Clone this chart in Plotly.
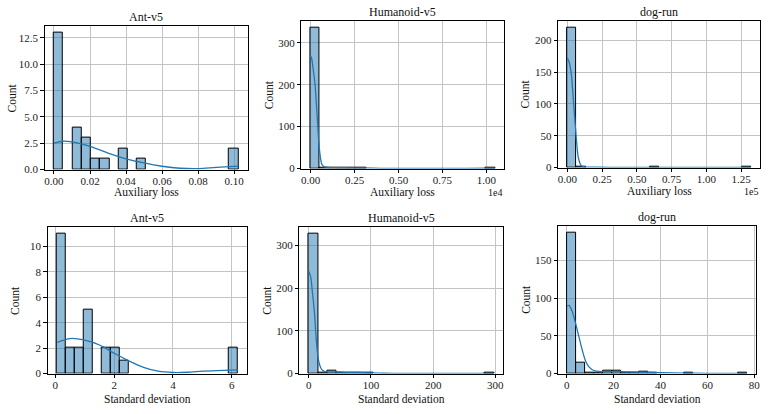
import numpy as np
import plotly.graph_objects as go

W, H = 772, 414

# ---------------- data ----------------
titles = ["Ant-v5", "Humanoid-v5", "dog-run", "Ant-v5", "Humanoid-v5", "dog-run"]
xlabels = ["Auxiliary loss"] * 3 + ["Standard deviation"] * 3

# Auxiliary loss
ant_aux_range = (0.0, 0.1024)
ant_aux_counts = [13, 0, 4, 3, 1, 1, 0, 2, 0, 1, 0, 0, 0, 0, 0, 0, 0, 0, 0, 2]
ant_aux_kde_x = [0, 0.005, 0.01, 0.02, 0.03, 0.04, 0.05, 0.06, 0.07, 0.08, 0.09, 0.1024]
ant_aux_kde_y = [2.5, 2.68, 2.62, 2.2, 1.56, 1.02, 0.62, 0.31, 0.12, 0.08, 0.2, 0.33]

hum_aux_range = (0.0, 10500.0)
hum_aux_counts = [336, 3, 2, 1, 1, 1, 0, 0, 0, 0, 0, 0, 0, 0, 0, 0, 0, 0, 0, 1]
hum_aux_kde_x = [0, 60, 150, 250, 400, 500, 620, 700, 800, 1000, 1500, 2000, 3000, 4000, 6000, 8000, 10000, 10500]
hum_aux_kde_y = [269, 262, 235, 200, 106, 45, 12, 7, 4, 2.5, 2, 1.8, 1.2, 0.5, 0.2, 0.3, 0.6, 0.6]

dog_aux_range = (0.0, 132000.0)
dog_aux_counts = [220, 1, 0, 0, 0, 0, 0, 0, 0, 1, 0, 0, 0, 0, 0, 0, 0, 0, 0, 1]
dog_aux_kde_x = [0, 1000, 2000, 3000, 4000, 5000, 6000, 7000, 8000, 10000, 12000, 20000, 40000, 60000, 80000, 100000, 120000, 132000]
dog_aux_kde_y = [172, 168, 160, 145, 118, 88, 60, 33, 15, 3, 1, 0.5, 0.3, 0.3, 0.3, 0.3, 0.3, 0.3]

# Standard deviation
ant_std_range = (0.05, 6.2)
ant_std_counts = [11, 2, 2, 5, 0, 2, 2, 1, 0, 0, 0, 0, 0, 0, 0, 0, 0, 0, 0, 2]
ant_std_kde_x = [0.05, 0.5, 1, 1.5, 2, 2.5, 3, 3.5, 4, 4.5, 5, 5.5, 6.2]
ant_std_kde_y = [2.44, 2.75, 2.62, 2.24, 1.59, 1.0, 0.49, 0.18, 0.08, 0.1, 0.18, 0.23, 0.28]

hum_std_range = (0.0, 298.0)
hum_std_counts = [328, 2, 7, 2, 1, 2, 1, 0, 0, 0, 0, 0, 0, 0, 0, 0, 0, 0, 0, 1]
hum_std_kde_x = [0, 3, 6, 9, 12, 15, 18, 21, 25, 30, 40, 50, 60, 70, 80, 90, 100, 120, 150, 200, 250, 298]
hum_std_kde_y = [240, 228, 190, 147, 82, 38, 18, 9, 5, 4, 4, 3.5, 2.5, 2.5, 2.5, 2, 1.5, 0.6, 0.3, 0.2, 0.3, 0.5]

dog_std_range = (0.17, 76.9)
dog_std_counts = [187, 15, 1, 1, 4, 4, 1, 1, 3, 1, 0, 0, 0, 1, 0, 0, 0, 0, 0, 1]
dog_std_kde_x = [0.17, 1, 2.4, 3.8, 5.2, 6.6, 8, 9.5, 11.6, 15, 20, 25, 30, 35, 40, 50, 60, 70, 76.9]
dog_std_kde_y = [89.5, 90.5, 82, 66.5, 49, 31.5, 17, 8.8, 4, 2.5, 2.5, 2.2, 1.8, 1.4, 1.0, 0.5, 0.3, 0.3, 0.3]

ranges = [ant_aux_range, hum_aux_range, dog_aux_range, ant_std_range, hum_std_range, dog_std_range]
counts = [ant_aux_counts, hum_aux_counts, dog_aux_counts, ant_std_counts, hum_std_counts, dog_std_counts]
kde_xs = [ant_aux_kde_x, hum_aux_kde_x, dog_aux_kde_x, ant_std_kde_x, hum_std_kde_x, dog_std_kde_x]
kde_ys = [ant_aux_kde_y, hum_aux_kde_y, dog_aux_kde_y, ant_std_kde_y, hum_std_kde_y, dog_std_kde_y]
scales = [1, 1e4, 1e5, 1, 1, 1]
offset_texts = ["", "1e4", "1e5", "", "", ""]

xticks = [[0, 0.02, 0.04, 0.06, 0.08, 0.10], [0, 0.25, 0.5, 0.75, 1.0], [0, 0.25, 0.5, 0.75, 1.0, 1.25],
          [0, 2, 4, 6], [0, 100, 200, 300], [0, 20, 40, 60, 80]]
xtickfmt = [".2f", ".2f", ".2f", "d", "d", "d"]
yticks = [[0, 2.5, 5, 7.5, 10, 12.5], [0, 100, 200, 300], [0, 50, 100, 150, 200],
          [0, 2, 4, 6, 8, 10], [0, 100, 200, 300], [0, 50, 100, 150]]
ytickfmt = [".1f", "d", "d", "d", "d", "d"]

# ---------------- layout (pixels) ----------------
boxes = [(45, 249, 26, 172), (303, 507, 21, 171), (561, 764, 21, 170),
         (48, 248, 230, 379), (301, 506, 230, 379), (561, 760, 229, 379)]
xlabel_gap = [23, 24, 24, 26, 26, 26]

FONT = "Liberation Serif, Times New Roman, serif"
BAR_FILL = "rgba(31,119,180,0.5)"
LINE = "#1f77b4"


def px(x):
    return x / W


def py(y):
    return 1 - y / H


fig = go.Figure()
annotations = []
for i in range(6):
    n = i + 1
    xa = "x" if n == 1 else f"x{n}"
    ya = "y" if n == 1 else f"y{n}"
    lo, hi = ranges[i]
    s = scales[i]
    c = np.array(counts[i], dtype=float)
    nb = len(c)
    edges = np.linspace(lo, hi, nb + 1) / s
    centers = (edges[:-1] + edges[1:]) / 2
    w = edges[1] - edges[0]
    yv = [v if v > 0 else None for v in c]
    fig.add_trace(go.Bar(x=centers, y=yv, width=w, xaxis=xa, yaxis=ya,
                         marker=dict(color=BAR_FILL, line=dict(color="black", width=1)),
                         showlegend=False))
    fig.add_trace(go.Scatter(x=np.array(kde_xs[i]) / s, y=kde_ys[i], mode="lines", xaxis=xa, yaxis=ya,
                             line=dict(color=LINE, width=1.3, shape="spline", smoothing=0.8),
                             showlegend=False))
    x0, x1, y0, y1 = boxes[i]
    span = (hi - lo) / s
    xr = [lo / s - 0.05 * span, hi / s + 0.05 * span]
    yr = [0, c.max() * 1.05]
    axcommon = dict(showline=True, mirror=True, linecolor="black", linewidth=1,
                    ticks="outside", ticklen=3.5, tickwidth=0.8, tickcolor="black",
                    showgrid=True, gridcolor="#c4c4c4", gridwidth=1, zeroline=False,
                    tickfont=dict(family=FONT, size=11, color="#222"))
    xkey = "xaxis" if n == 1 else f"xaxis{n}"
    ykey = "yaxis" if n == 1 else f"yaxis{n}"
    fig.update_layout(**{
        xkey: dict(domain=[px(x0), px(x1)], anchor=ya, range=xr, ticklabelstandoff=-2,
                   tickvals=xticks[i], tickformat=xtickfmt[i], **axcommon),
        ykey: dict(domain=[py(y1), py(y0)], anchor=xa, range=yr,
                   tickvals=yticks[i], tickformat=ytickfmt[i], **axcommon),
    })
    # title
    annotations.append(dict(text=titles[i], x=px((x0 + x1) / 2), y=py(y0 - 9), xref="paper", yref="paper",
                            showarrow=False, xanchor="center", yanchor="middle",
                            font=dict(family=FONT, size=12, color="#111")))
    # x label
    annotations.append(dict(text=xlabels[i], x=px((x0 + x1) / 2), y=py(y1 + xlabel_gap[i]),
                            xref="paper", yref="paper",
                            showarrow=False, xanchor="center", yanchor="middle",
                            font=dict(family=FONT, size=11.5, color="#111")))
    # y label
    annotations.append(dict(text="Count", x=px(x0 - 33), y=py((y0 + y1) / 2), xref="paper", yref="paper",
                            showarrow=False, xanchor="center", yanchor="middle", textangle=-90,
                            font=dict(family=FONT, size=11.5, color="#111")))
    if offset_texts[i]:
        annotations.append(dict(text=offset_texts[i], x=px(x1), y=py(y1 + xlabel_gap[i]),
                                xref="paper", yref="paper",
                                showarrow=False, xanchor="right", yanchor="middle",
                                font=dict(family=FONT, size=10, color="#111")))

fig.update_layout(width=W, height=H, margin=dict(l=0, r=0, t=0, b=0),
                  paper_bgcolor="white", plot_bgcolor="white",
                  bargap=0, barmode="overlay", annotations=annotations,
                  font=dict(family=FONT))

fig.write_html("out.html")
